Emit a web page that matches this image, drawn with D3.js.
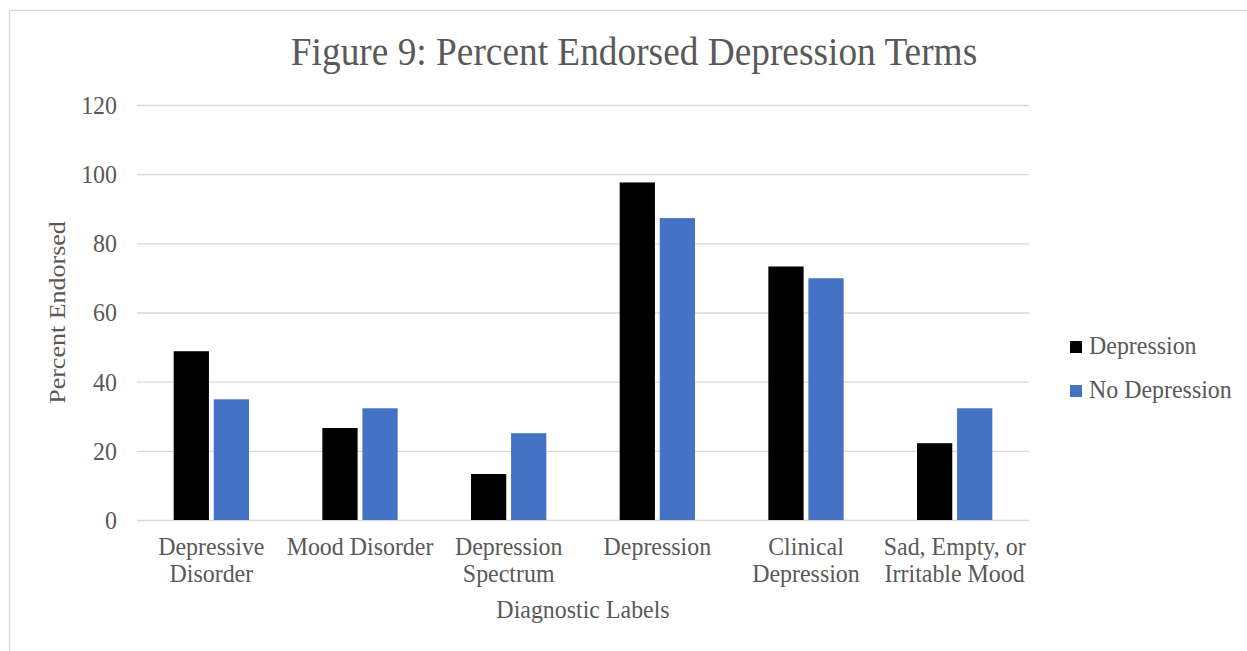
<!DOCTYPE html>
<html><head><meta charset="utf-8">
<script src="https://cdn.jsdelivr.net/npm/d3@7"></script>
<style>
html,body{margin:0;padding:0;background:#fff;}
svg{display:block;}
text{font-family:"Liberation Serif","Times New Roman",serif;fill:#595959;}
</style></head>
<body>
<svg id="c" width="1247" height="651"></svg>
<script>
const categories = [["Depressive","Disorder"],["Mood Disorder"],["Depression","Spectrum"],["Depression"],["Clinical","Depression"],["Sad, Empty, or","Irritable Mood"]];
const seriesNames = ["Depression","No Depression"];
const depression = [48.8, 26.6, 13.3, 97.6, 73.3, 22.2];
const noDepression = [34.9, 32.3, 25.1, 87.3, 69.9, 32.3];
const yTicks = [0,20,40,60,80,100,120];
const colors = ["#000000","#4472C4"];
const title = "Figure 9: Percent Endorsed Depression Terms";
const xTitle = "Diagnostic Labels";
const yTitle = "Percent Endorsed";

const svg = d3.select("#c");
const W = 1247, H = 651;
const L = 137, R = 1029, T = 105, B = 520;
const SX = 0.92;

function txt(x0, y0, s, size, anchor, rot) {
  return svg.append("text")
    .attr("transform", `translate(${x0},${y0}) scale(${SX},1)` + (rot ? ` rotate(${rot})` : ""))
    .attr("text-anchor", anchor || "start")
    .attr("font-size", size)
    .text(s);
}

svg.append("rect").attr("x",9.5).attr("y",10.5).attr("width",W+20).attr("height",H+20)
  .attr("fill","#fff").attr("stroke","#d9d9d9").attr("stroke-width",1.3);

const keys = categories.map((c,i)=>i);
const x = d3.scaleBand().domain(keys).range([L,R]).paddingInner(0).paddingOuter(0);
const y = d3.scaleLinear().domain([0,120]).range([B,T]);
const x1 = d3.scaleBand().domain([0,1]).range([0,75.3]).paddingInner(0.12);
const groupOffset = (x.bandwidth()-75.3)/2;

// gridlines
const grid = svg.append("g").attr("transform",`translate(${L},0)`)
  .call(d3.axisLeft(y).tickValues(yTicks).tickSize(-(R-L)).tickFormat(""));
grid.select(".domain").remove();
grid.selectAll("line").attr("stroke","#d9d9d9").attr("stroke-width",1.3);

// y tick labels
yTicks.forEach(v => {
  txt(117, y(v), d3.format("d")(v), 26, "end").attr("dy","0.34em");
});

// bars
const data = [depression, noDepression];
const g = svg.append("g");
keys.forEach(i=>{
  data.forEach((s,j)=>{
    g.append("rect")
      .attr("x", x(i)+groupOffset+x1(j))
      .attr("y", y(s[i]))
      .attr("width", x1.bandwidth())
      .attr("height", y(0)-y(s[i]))
      .attr("fill", colors[j]);
  });
});

// x labels
keys.forEach(i=>{
  categories[i].forEach((line,k)=>{
    txt(x(i)+x.bandwidth()/2, 555 + k*27, line, 26, "middle");
  });
});

// titles
txt(634, 64.5, title, 40.6, "middle");
txt((L+R)/2, 618, xTitle, 26, "middle");
txt(65, (T+B)/2, yTitle, 26, "middle", -90);

// legend
seriesNames.forEach((n,j)=>{
  const yy = 341 + j*44;
  svg.append("rect").attr("x",1070).attr("y",yy).attr("width",12).attr("height",12).attr("fill",colors[j]);
  txt(1089, yy+12.5, n, 26, "start");
});
</script>
</body></html>
